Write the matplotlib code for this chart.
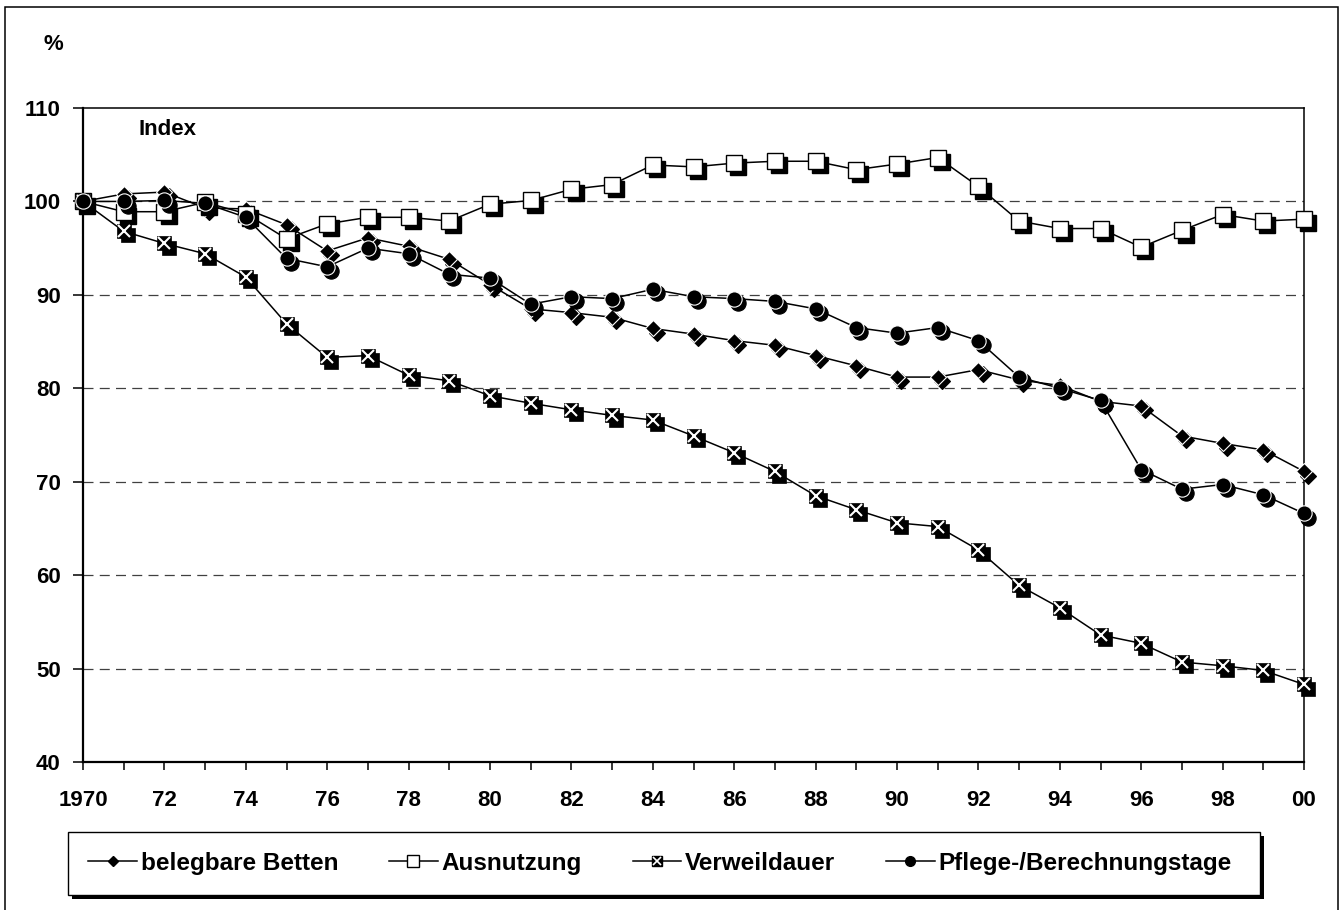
import matplotlib
matplotlib.use("Agg")
import matplotlib.pyplot as plt
import matplotlib.transforms as mtransforms
from matplotlib.lines import Line2D
from matplotlib.legend_handler import HandlerTuple
from matplotlib.patches import Rectangle

plt.rcParams["font.family"] = ["Liberation Sans", "DejaVu Sans"]
plt.rcParams["font.weight"] = "bold"

# index values, 1970 = 100
years = list(range(1970, 2001))
betten = [100.0, 100.8, 101.0, 99.3, 99.2, 97.5, 94.7, 96.1, 95.2, 93.8,
          91.1, 88.5, 88.1, 87.6, 86.4, 85.8, 85.1, 84.6, 83.5, 82.4,
          81.2, 81.2, 82.0, 80.9, 80.3, 78.6, 78.1, 74.9, 74.1, 73.4, 71.1]
ausnutzung = [100.0, 98.9, 98.9, 99.9, 98.7, 96.0, 97.6, 98.3, 98.3, 97.9,
              99.7, 100.1, 101.3, 101.8, 103.9, 103.7, 104.1, 104.3, 104.3, 103.4,
              104.0, 104.7, 101.6, 97.9, 97.1, 97.1, 95.1, 96.9, 98.6, 97.9, 98.1]
verweildauer = [100.0, 96.8, 95.5, 94.4, 91.9, 86.9, 83.3, 83.5, 81.4, 80.8,
                79.2, 78.4, 77.7, 77.1, 76.6, 74.9, 73.1, 71.1, 68.5, 67.0,
                65.6, 65.2, 62.7, 58.9, 56.5, 53.6, 52.7, 50.7, 50.3, 49.8, 48.3]
pflegetage = [100.0, 100.0, 100.1, 99.8, 98.3, 93.9, 93.0, 95.0, 94.4, 92.2,
              91.8, 89.0, 89.8, 89.6, 90.6, 89.8, 89.6, 89.3, 88.5, 86.5,
              85.9, 86.5, 85.1, 81.2, 80.0, 78.7, 71.3, 69.2, 69.7, 68.6, 66.6]
labels = ["belegbare Betten", "Ausnutzung", "Verweildauer", "Pflege-/Berechnungstage"]

W, H = 1344, 910
fig = plt.figure(figsize=(W / 100, H / 100), dpi=100)
ax = fig.add_axes([83 / W, 1 - 762 / H, (1304 - 83) / W, (762 - 108) / H])

shadow = mtransforms.offset_copy(ax.transData, fig=fig, x=3, y=-3, units="points")


def draw_series(values, z, marker, ms, face, edge, mew=1.0):
    ax.plot(years, values, ls="none", marker=marker, ms=ms, mfc="black", mec="black",
            mew=mew, transform=shadow, clip_on=False, zorder=z)
    ax.plot(years, values, color="black", lw=1.1, marker=marker, ms=ms, mfc=face,
            mec=edge, mew=mew, clip_on=False, zorder=z + 0.1)


draw_series(betten, 3, "D", 8.5, "black", "white", 0.8)
draw_series(ausnutzung, 4, "s", 11.5, "white", "black", 1.0)
draw_series(verweildauer, 5, "s", 10, "black", "black", 0.5)
ax.plot(years, verweildauer, ls="none", marker="x", ms=8, mec="white", mew=1.5,
        clip_on=False, zorder=5.2)
draw_series(pflegetage, 6, "o", 11, "black", "white", 0.8)

for v in range(50, 101, 10):
    ax.axhline(v, color="#404040", lw=0.9, ls=(0, (8, 5)), zorder=1)

ax.set_xlim(1970, 2000)
ax.set_ylim(40, 110)
ax.set_xticks(years)
ax.set_xticklabels(["1970" if y == 1970 else (f"{y % 100:02d}" if y % 2 == 0 else "")
                    for y in years])
ax.set_yticks(range(40, 111, 10))
ax.tick_params(axis="x", length=6, width=1.1, pad=14, labelsize=16)
ax.tick_params(axis="y", length=7, width=1.1, pad=9, labelsize=16)
for s in ax.spines.values():
    s.set_linewidth(1.1)
ax.spines["left"].set_linewidth(1.6)
ax.spines["bottom"].set_linewidth(1.6)

fig.text(53 / W, 1 - 45 / H, "%", ha="center", va="center", fontsize=16, weight="bold")
fig.text(167 / W, 1 - 130 / H, "Index", ha="center", va="center", fontsize=16, weight="bold")

fig.add_artist(Rectangle((5 / W, -0.01), (1338 - 5) / W, (H - 7) / H + 0.01,
                         transform=fig.transFigure, fill=False, ec="black", lw=1.1))

# legend box with drop shadow (pixel extents from the reference)
lx0, lx1, ly0, ly1 = 68, 1260, 832, 895
fig.add_artist(Rectangle(((lx0 + 4) / W, 1 - (ly1 + 4) / H), (lx1 - lx0) / W, (ly1 - ly0) / H,
                         transform=fig.transFigure, fc="black", ec="none", zorder=4))
fig.add_artist(Rectangle((lx0 / W, 1 - ly1 / H), (lx1 - lx0) / W, (ly1 - ly0) / H,
                         transform=fig.transFigure, fc="white", ec="black", lw=1.0, zorder=4.5))

h1 = Line2D([], [], color="black", lw=1.1, marker="D", ms=5, mfc="black", mec="black")
h2 = Line2D([], [], color="black", lw=1.1, marker="s", ms=9, mfc="white", mec="black", mew=1)
h3 = (Line2D([], [], color="black", lw=1.1, marker="s", ms=7, mfc="black", mec="black"),
      Line2D([], [], ls="none", marker="x", ms=5.5, mec="white", mew=1.2))
h4 = Line2D([], [], color="black", lw=1.1, marker="o", ms=7, mfc="black", mec="black")

leg = fig.legend([h1, h2, h3, h4], labels, loc="center",
                 bbox_to_anchor=(660 / W, 1 - (ly0 + ly1) / 2 / H),
                 ncol=4, frameon=False, fontsize=17.5, handlelength=2.0,
                 handletextpad=0.15, columnspacing=2.1, borderaxespad=0, borderpad=0.3,
                 handler_map={tuple: HandlerTuple(ndivide=1, pad=0)})
leg.set_zorder(5)

fig.savefig("out.png", dpi=100)
